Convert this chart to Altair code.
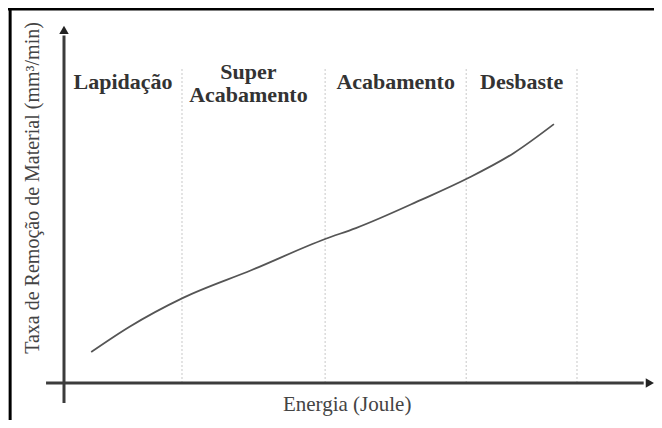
import altair as alt
import pandas as pd

# --- data (arbitrary units) ---
energia = [0.53, 1.27, 2.32, 3.66, 5.09, 5.69, 6.96, 7.88, 8.77, 9.55]
taxa = [0.99, 1.79, 2.72, 3.61, 4.60, 4.95, 5.85, 6.55, 7.35, 8.27]
regioes = ["Lapidação", "Super\nAcabamento", "Acabamento", "Desbaste"]
limites = [0.0, 2.30, 5.09, 7.84, 10.0]
titulo_x = "Energia (Joule)"
titulo_y = "Taxa de Remoção de Material (mm³/min)"

W, H = 646, 412
XD = [-1.0916, 11.501]
YD = [-1.182, 11.981]

xs = alt.Scale(domain=XD, nice=False, zero=False)
ys = alt.Scale(domain=YD, nice=False, zero=False)

def X(f):
    return alt.X(f, type="quantitative", scale=xs, axis=None)

def Y(f):
    return alt.Y(f, type="quantitative", scale=ys, axis=None)

# curve
curve_df = pd.DataFrame({"x": energia, "y": taxa})
curve = alt.Chart(curve_df).mark_line(
    color="#555555", strokeWidth=1.8, interpolate="monotone"
).encode(x=X("x"), y=Y("y"))

# region dividers
div_df = pd.DataFrame({"x": limites[1:], "y0": [0.0] * 4, "y1": [10.05] * 4})
dividers = alt.Chart(div_df).mark_rule(
    color="#c8c8c8", strokeWidth=1, strokeDash=[2, 2]
).encode(x=X("x"), y=Y("y0"), y2="y1")

# region labels
mids = [(limites[i] + limites[i + 1]) / 2 for i in range(4)]
mids[1] -= 0.1
lab_y = [9.22, 9.56, 9.22, 9.22]
lab_df = pd.DataFrame({"x": mids, "y": lab_y, "t": regioes})
labels = alt.Chart(lab_df).mark_text(
    font="Liberation Serif", fontWeight="bold", fontSize=22,
    baseline="bottom", align="center", lineBreak="\n", lineHeight=23,
    color="#333333"
).encode(x=X("x"), y=Y("y"), text="t:N")

# axes lines
ax_df = pd.DataFrame({"x0": [0.0, -0.35], "x1": [0.0, 11.3],
                      "y0": [-0.64, 0.0], "y1": [11.1, 0.0]})
axes = alt.Chart(ax_df).mark_rule(color="#3c3c3c", strokeWidth=3).encode(
    x=X("x0"), x2="x1", y=Y("y0"), y2="y1")

arr_df = pd.DataFrame({"x": [0.0, 11.42], "y": [11.28, 0.0],
                       "s": ["triangle-up", "triangle-right"]})
arrows = alt.Chart(arr_df).mark_point(
    filled=True, size=90, color="#222222", opacity=1
).encode(x=X("x"), y=Y("y"),
         shape=alt.Shape("s:N", scale=None, legend=None))

# frame (top and left edges visible)
fr_df = pd.DataFrame({"x0": [XD[0], -1.05], "x1": [XD[1], -1.05],
                      "y0": [11.95, YD[0]], "y1": [11.95, YD[1]]})
frame = alt.Chart(fr_df).mark_rule(color="#000000", strokeWidth=3).encode(
    x=X("x0"), x2="x1", y=Y("y0"), y2="y1")

# titles
tx_df = pd.DataFrame({"x": [5.52], "y": [-0.70], "t": [titulo_x]})
tx = alt.Chart(tx_df).mark_text(
    font="Liberation Serif", fontSize=21, baseline="middle", align="center",
    color="#444444"
).encode(x=X("x"), y=Y("y"), text="t:N")

ty_df = pd.DataFrame({"x": [-0.60], "y": [6.23], "t": [titulo_y]})
ty = alt.Chart(ty_df).mark_text(
    font="Liberation Serif", fontSize=20, baseline="middle", align="center",
    angle=270, color="#444444"
).encode(x=X("x"), y=Y("y"), text="t:N")

chart = alt.layer(frame, dividers, curve, axes, arrows, labels, tx, ty).properties(
    width=W, height=H, padding=0, autosize="none", background="white"
).configure_view(stroke=None)

chart.save("out.html", embed_options={"renderer": "svg", "actions": False})
